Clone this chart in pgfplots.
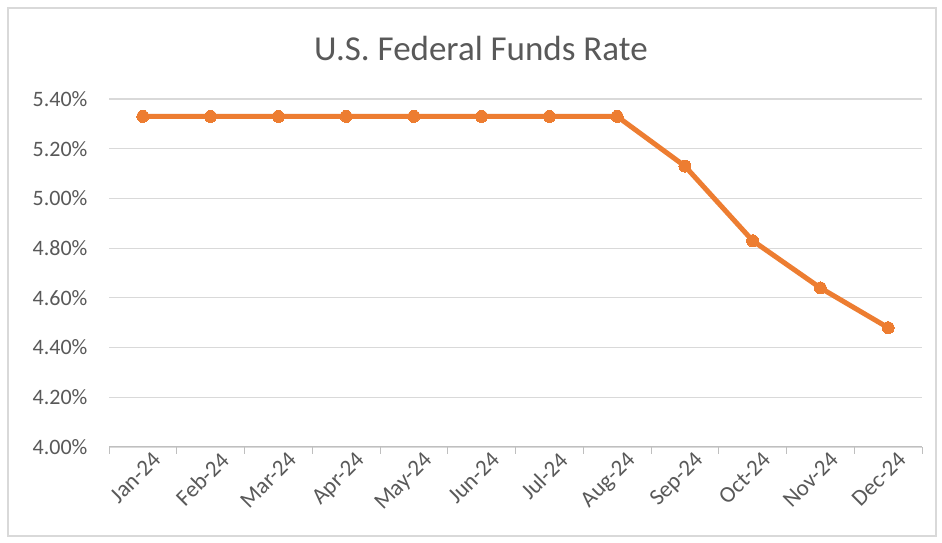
\documentclass[border=0pt]{standalone}
\usepackage{pgfplots}
\pgfplotsset{compat=1.18}
\usepackage{fontspec}
\setmainfont{Carlito}
\definecolor{exorange}{HTML}{ED7D31}
\definecolor{gridgray}{HTML}{D9D9D9}
\definecolor{axisgray}{HTML}{BFBFBF}
\definecolor{textgray}{HTML}{595959}
\begin{document}
\begin{tikzpicture}[x=1pt,y=1pt]
\useasboundingbox (0,0) rectangle (942,543);
\fill[white] (0,0) rectangle (942,543);
\draw[gridgray, line width=1.5pt] (8,7) rectangle (936,535);
\node[textgray, font=\fontsize{35}{40}\selectfont] at (481,495) {U.S. Federal Funds Rate};
\begin{axis}[
  at={(109pt,96pt)}, anchor=south west,
  width=813pt, height=348pt, scale only axis,
  xmin=-0.5, xmax=11.5, ymin=4, ymax=5.4,
  axis x line*=bottom, axis y line*=left,
  x axis line style={axisgray, line width=1pt, -},
  y axis line style={draw=none},
  xtick={0,...,11},
  xticklabels={Jan-24,Feb-24,Mar-24,Apr-24,May-24,Jun-24,Jul-24,Aug-24,Sep-24,Oct-24,Nov-24,Dec-24},
  minor xtick={-0.5,0.5,...,11.5},
  major tick length=0pt, minor tick length=7pt,
  tick align=outside,
  minor tick style={axisgray, line width=1pt},
  major tick style={draw=none},
  xticklabel style={rotate=45, anchor=north east, font=\fontsize{23}{27}\selectfont, textgray, xshift=7pt, yshift=-5pt},
  ytick={4,4.2,4.4,4.6,4.8,5,5.2,5.4},
  ymajorgrids, grid style={gridgray, line width=1.2pt},
  yticklabel style={font=\fontsize{22}{26}\selectfont, textgray, anchor=east, xshift=-18pt},
  yticklabel={\pgfmathprintnumber[fixed,fixed zerofill,precision=2]{\tick}\%},
  /pgf/number format/assume math mode=true,
  clip=false,
]
\addplot[exorange, line width=5pt, mark=*, mark size=6pt, mark options={fill=exorange, draw=exorange, line width=0pt}]
coordinates {(0,5.33)(1,5.33)(2,5.33)(3,5.33)(4,5.33)(5,5.33)(6,5.33)(7,5.33)(8,5.13)(9,4.83)(10,4.64)(11,4.48)};
\end{axis}
\end{tikzpicture}
\end{document}
